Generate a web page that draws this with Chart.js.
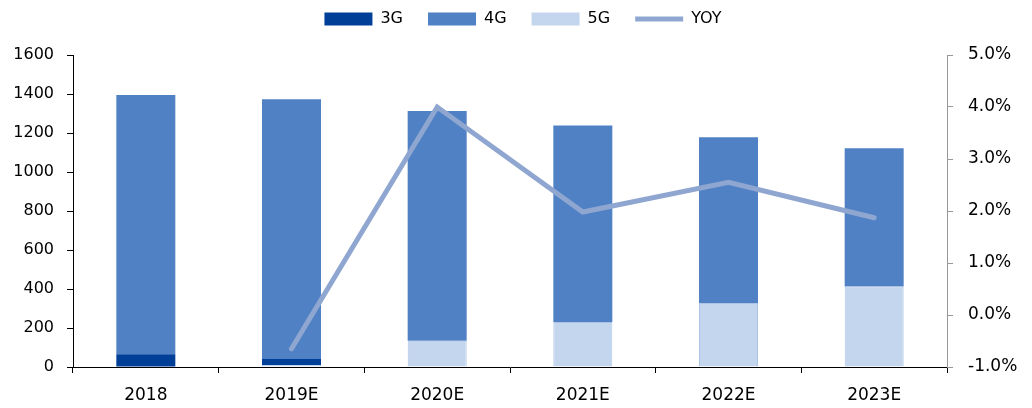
<!DOCTYPE html>
<html>
<head>
<meta charset="utf-8">
<script src="https://cdn.jsdelivr.net/npm/chart.js@4/dist/chart.umd.min.js"></script>
<style>
    html, body { margin: 0; padding: 0; background: #fff; }
    #wrap { width: 1032px; height: 408px; }
</style>
</head>
<body>
<div id="wrap"><canvas id="Bar_Chart" width="1032" height="408"></canvas></div>
<script>
const years = ['2018', '2019E', '2020E', '2021E', '2022E', '2023E'];
const sales3G = [65, 31, 0, 0, 0, 0];
const sales4G = [1330, 1332, 1178, 1007, 850, 709];
const sales5G = [0, 10, 135, 231, 328, 413];
const yoy = [null, -0.65, 4.0, 1.98, 2.55, 1.87];
const legendOrder = ['3G', '4G', '5G', 'YOY'];

const family = "'DejaVu Sans', Verdana, sans-serif";
const font = { family: family, size: 16 };
const bigFont = { family: family, size: 17 };

// legend gets a fixed block height and is nudged up/right after layout
const legendBlock = {
    id: 'legendBlock',
    beforeLayout(chart) {
        const legend = chart.legend;
        if (legend && !legend._patched) {
            const fit = legend.fit;
            legend.fit = function () {
                fit.call(this);
                this.height = 55;
            };
            legend._patched = true;
        }
    },
    afterLayout(chart) {
        const legend = chart.legend;
        legend.top -= 14;
        legend.bottom -= 14;
        legend.left += 7;
        legend.right += 7;
    }
};

const ctx = document.getElementById('Bar_Chart').getContext('2d');
new Chart(ctx, {
    type: 'bar',
    data: {
        labels: years,
        datasets: [
            {
                // 5G sits at the bottom of each stack
                label: '5G',
                data: sales5G,
                backgroundColor: '#c4d6ed',
                borderColor: '#abc4e6',
                borderWidth: 1,
                pointStyle: 'rect',
                yAxisID: 'y',
                barPercentage: 0.405,
                categoryPercentage: 1
            },
            {
                label: '3G',
                data: sales3G,
                backgroundColor: '#003f98',
                borderWidth: 0,
                pointStyle: 'rect',
                yAxisID: 'y',
                barPercentage: 0.405,
                categoryPercentage: 1
            },
            {
                label: '4G',
                data: sales4G,
                backgroundColor: '#4f81c4',
                borderWidth: 0,
                pointStyle: 'rect',
                yAxisID: 'y',
                barPercentage: 0.405,
                categoryPercentage: 1
            },
            {
                type: 'line',
                label: 'YOY',
                data: yoy,
                borderColor: '#8fa7d0',
                backgroundColor: '#8fa7d0',
                borderWidth: 5,
                borderCapStyle: 'round',
                borderJoinStyle: 'miter',
                pointRadius: 0,
                pointStyle: 'line',
                tension: 0,
                yAxisID: 'y1',
                order: -1
            }
        ]
    },
    options: {
        responsive: false,
        animation: false,
        layout: { padding: 0 },
        plugins: {
            legend: {
                position: 'top',
                labels: {
                    font: font,
                    color: '#000',
                    usePointStyle: true,
                    pointStyleWidth: 48,
                    boxWidth: 48,
                    boxHeight: 13,
                    padding: 25,
                    // plain boxes for the bar series, keep the stroke for the line
                    generateLabels: (chart) => Chart.defaults.plugins.legend.labels.generateLabels(chart)
                        .map((item) => item.text === 'YOY' ? item : Object.assign(item, { lineWidth: 0 })),
                    sort: (a, b) => legendOrder.indexOf(a.text) - legendOrder.indexOf(b.text)
                }
            },
            tooltip: { enabled: false }
        },
        scales: {
            x: {
                stacked: true,
                offset: true,
                grid: {
                    offset: true,
                    drawOnChartArea: false,
                    tickLength: 6,
                    color: '#000'
                },
                border: { color: '#000' },
                ticks: { font: bigFont, color: '#000', padding: 12 },
                afterFit: (scale) => { scale.height = 41; }
            },
            y: {
                stacked: true,
                position: 'left',
                min: 0,
                max: 1600,
                grid: {
                    drawOnChartArea: false,
                    tickLength: 6,
                    color: '#000'
                },
                border: { color: '#000' },
                ticks: {
                    stepSize: 200,
                    font: font,
                    color: '#000',
                    padding: 13,
                    callback: (v) => String(v)
                },
                afterFit: (scale) => { scale.width = 73; }
            },
            y1: {
                position: 'right',
                min: -1,
                max: 5,
                grid: {
                    drawOnChartArea: false,
                    tickLength: 6,
                    color: '#999'
                },
                border: { color: '#999' },
                ticks: {
                    stepSize: 1,
                    font: bigFont,
                    color: '#000',
                    padding: 15,
                    callback: (v) => v.toFixed(1) + '%'
                },
                afterFit: (scale) => { scale.width = 85; }
            }
        }
    },
    plugins: [legendBlock]
});
</script>
</body>
</html>
